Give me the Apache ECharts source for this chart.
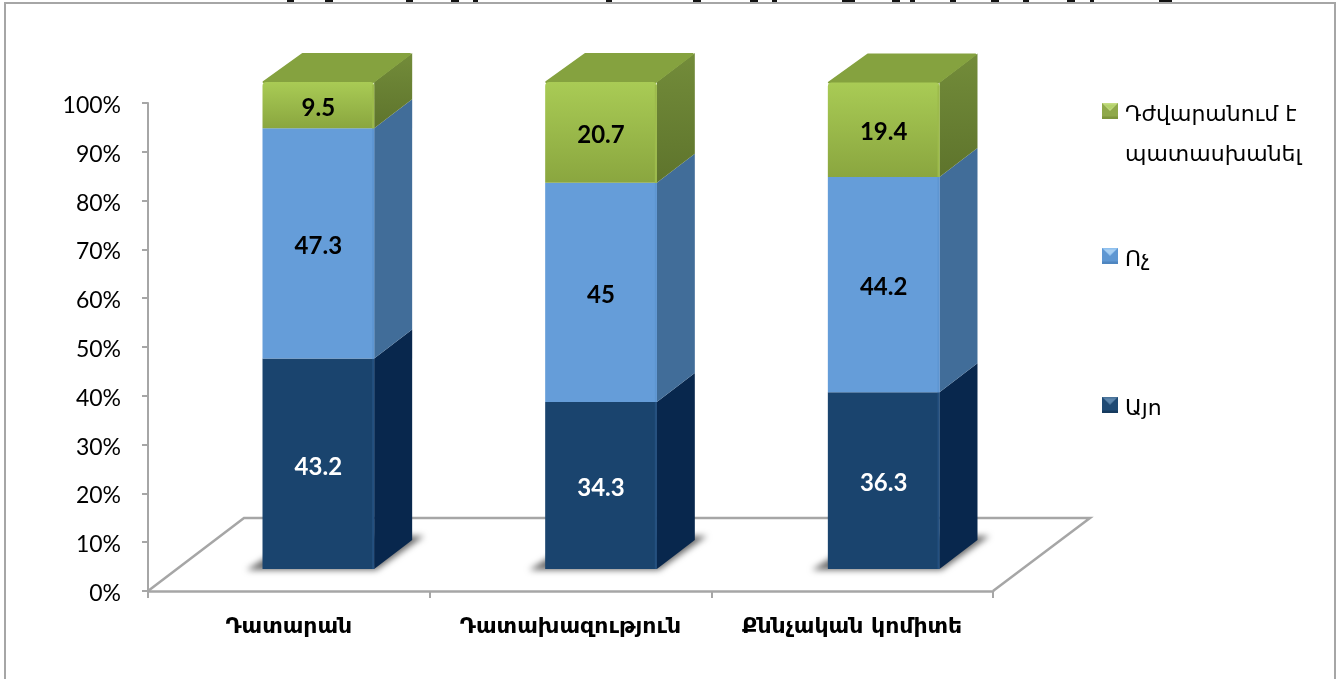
<!DOCTYPE html>
<html><head><meta charset="utf-8">
<style>html,body{margin:0;padding:0;background:#fff}#c{width:1342px;height:679px}</style>
<script src="https://cdn.jsdelivr.net/npm/echarts@6/dist/echarts.min.js"></script>
</head><body><div id="c"></div>
<script>
const categories = ['Դատարան', 'Դատախազություն', 'Քննչական կոմիտե'];
const yesValues = [43.2, 34.3, 36.3];
const noValues = [47.3, 45, 44.2];
const hardValues = [9.5, 20.7, 19.4];
const yesName = 'Այո';
const noName = 'Ոչ';
const hardName = 'Դժվարանում է';
const hardNameLine2 = 'պատասխանել';
const ARM = '"DejaVu Sans","Noto Sans",sans-serif';
const NUM = 'Lato,"Open Sans",sans-serif';
const depthX = 38, depthY = 29;
const GRAY = '#a6a6a6';

function vgrad(a, b) {
  return {type:'linear',x:0,y:0,x2:0,y2:1,colorStops:[{offset:0,color:a},{offset:1,color:b}]};
}
const styles = {
  yes: {front:'#1a446e', edge:'#24507f', side:'#08274d', label:'#fff'},
  no: {front:'#659dd9', edge:'#5e96d2', side:'#416d99', label:'#000'},
  hard: {front:vgrad('#a9cb55','#8aa63f'), edge:'#9dbb4c', side:vgrad('#738c3a','#5e742c'), top:'#85a23f', label:'#000'}
};

// Legend icon: bevelled square in the upper part, transparent below, so the
// label (centred on the icon box) sits slightly lower than the square.
function pyramidIcon(light, mid, dark, top) {
  const s = 32, cv = document.createElement('canvas');
  cv.width = s; cv.height = 48;
  const g = cv.getContext('2d');
  g.fillStyle = mid; g.fillRect(0,0,s,s);
  g.fillStyle = top; g.beginPath(); g.moveTo(0,0); g.lineTo(s,0); g.lineTo(s/2,s*0.5); g.closePath(); g.fill();
  g.fillStyle = dark; g.fillRect(0,s-5,s,5);
  g.fillStyle = light; g.beginPath(); g.moveTo(4,3); g.lineTo(s-4,3); g.lineTo(s/2,s*0.42); g.closePath(); g.fill();
  return 'image://' + cv.toDataURL();
}

function starts(lower) {
  return lower.reduce((acc, arr) => acc.map((v, i) => v + arr[i]), categories.map(() => 0));
}
function rows(values, lower) {
  const base = starts(lower);
  return values.map((v, i) => [i, base[i], base[i] + v, v]);
}

const OFF = 1500;
function cuboid(style, isBase, isTop) {
  return function (params, api) {
    const i = api.value(0), from = api.value(1), to = api.value(2);
    const w = api.size([1, 0])[0] * 0.395;
    const c0 = api.coord([i, from]), c1 = api.coord([i, to]);
    const x = c0[0] - w / 2, y0 = c0[1], y1 = c1[1];
    const children = [];
    if (isBase) {
      // only the blurred shadow lands on the floor; the caster sits outside the canvas
      children.push({type:'polygon', shape:{points:[[x-16-OFF,y0+1],[x+w+2-OFF,y0+1],[x+w+depthX+12-OFF,y0-depthY-4],[x+depthX-OFF,y0-depthY-4]]},
        style:{fill:'#777', shadowBlur:6, shadowColor:'#6a6a6a', shadowOffsetX:OFF}});
    }
    children.push({type:'polygon', shape:{points:[[x+w,y0],[x+w+depthX,y0-depthY],[x+w+depthX,y1-depthY],[x+w,y1]]},
      style:{fill:style.side}});
    if (isTop) {
      children.push({type:'polygon', shape:{points:[[x+1,y1],[x+w-1,y1],[x+w+depthX-2,y1-depthY+1],[x+depthX+2,y1-depthY+1]]},
        style:{fill:style.top, stroke:style.top, lineWidth:2, lineJoin:'round'}});
    }
    children.push({type:'rect', shape:{x:x, y:y1, width:w, height:y0-y1, r:isTop?[4,4,0,0]:0}, style:{fill:style.front}});
    children.push({type:'rect', shape:{x:x+w-2, y:y1+(isTop?3:0), width:2, height:y0-y1-(isTop?3:0)}, style:{fill:style.edge}});
    children.push({type:'text', style:{text:String(api.value(3)), x:x+w/2, y:(y0+y1)/2+3, align:'center', verticalAlign:'middle',
      fill:style.label, font:'bold 24px '+NUM}});
    return {type:'group', children};
  };
}

function floorItem(params) {
  const r = params.coordSys;
  const b = r.y + r.height;
  return {type:'polyline', silent:true, shape:{points:[[r.x,b],[r.x+96,b-73],[r.x+r.width+97,b-73],[r.x+r.width,b]]},
    style:{fill:'none', stroke:GRAY, lineWidth:2.5}};
}

function legendCfg(name, icon, top, fmt) {
  return {show:true, left:1102, top:top, orient:'vertical', itemWidth:16, itemHeight:24, itemGap:0, padding:0, selectedMode:false,
    data:[{name, icon}], formatter:fmt||'{name}', textStyle:{fontFamily:ARM, fontSize:22, color:'#000', padding:[0,0,0,2]}};
}

const titleRemnants = [[287,7],[325,8],[406,7],[451,8],[473,5],[606,6],[693,8],[750,8],[772,5],[842,13],[892,8],[910,5],[950,6],[991,8],[1023,6],[1067,8],[1090,4],[1159,13]];

const chart = echarts.init(document.getElementById('c'), null, {renderer:'canvas'});
chart.setOption({
  animation:false,
  backgroundColor:'#fff',
  grid:[
    {left:148, width:845, top:103, height:488},
    {left:177, width:848, top:82, height:487}
  ],
  xAxis:[
    {type:'category', gridIndex:0, data:categories,
      axisLine:{lineStyle:{color:GRAY,width:2.5}},
      axisTick:{show:true,length:7,alignWithLabel:false,lineStyle:{color:GRAY,width:2}},
      axisLabel:{margin:25,color:'#000',fontFamily:ARM,fontWeight:'bold',fontSize:22,interval:0}},
    {type:'category', gridIndex:1, data:categories, show:false}
  ],
  yAxis:[
    {type:'value', gridIndex:0, min:0, max:100, interval:10,
      axisLine:{show:true,lineStyle:{color:GRAY,width:2}},
      axisTick:{show:true,length:6,lineStyle:{color:GRAY,width:2}},
      splitLine:{show:false},
      axisLabel:{formatter:'{value}%',color:'#000',fontFamily:NUM,fontSize:23,margin:27,verticalAlign:'top',lineHeight:5}},
    {type:'value', gridIndex:1, min:0, max:100, show:false, splitLine:{show:false}}
  ],
  legend:[
    legendCfg(hardName+' '+hardNameLine2, pyramidIcon('#b3d26a','#8fa94a','#7d963c','#c6dd84'), 103, () => hardName),
    legendCfg(noName, pyramidIcon('#a8cff2','#5f97d2','#4f86c0','#8fc0ee'), 248),
    legendCfg(yesName, pyramidIcon('#5c86ad','#1f4a74','#163a5e','#4a7399'), 397)
  ],
  graphic:{elements:[
    {type:'rect', silent:true, shape:{x:5,y:3,width:1330,height:710}, style:{fill:'none',stroke:GRAY,lineWidth:2}, z:-1},
    {type:'text', silent:true, left:1125, top:144, style:{text:hardNameLine2, fill:'#000', font:'22px '+ARM}}
  ].concat(titleRemnants.map(t => ({type:'rect', silent:true, shape:{x:t[0],y:0,width:t[1],height:2}, style:{fill:'#111'}})))},
  series:[
    {type:'custom', name:'floor', xAxisIndex:0, yAxisIndex:0, silent:true, z:1, renderItem:floorItem, data:[[0,0]]},
    {type:'custom', name:yesName, xAxisIndex:1, yAxisIndex:1, z:3, itemStyle:{color:'#1a446e'}, renderItem:cuboid(styles.yes,true,false), data:rows(yesValues,[])},
    {type:'custom', name:noName, xAxisIndex:1, yAxisIndex:1, z:3, itemStyle:{color:'#659dd9'}, renderItem:cuboid(styles.no,false,false), data:rows(noValues,[yesValues])},
    {type:'custom', name:hardName+' '+hardNameLine2, xAxisIndex:1, yAxisIndex:1, z:3, itemStyle:{color:'#8fa94a'}, renderItem:cuboid(styles.hard,false,true), data:rows(hardValues,[yesValues,noValues])}
  ]
});
</script></body></html>
